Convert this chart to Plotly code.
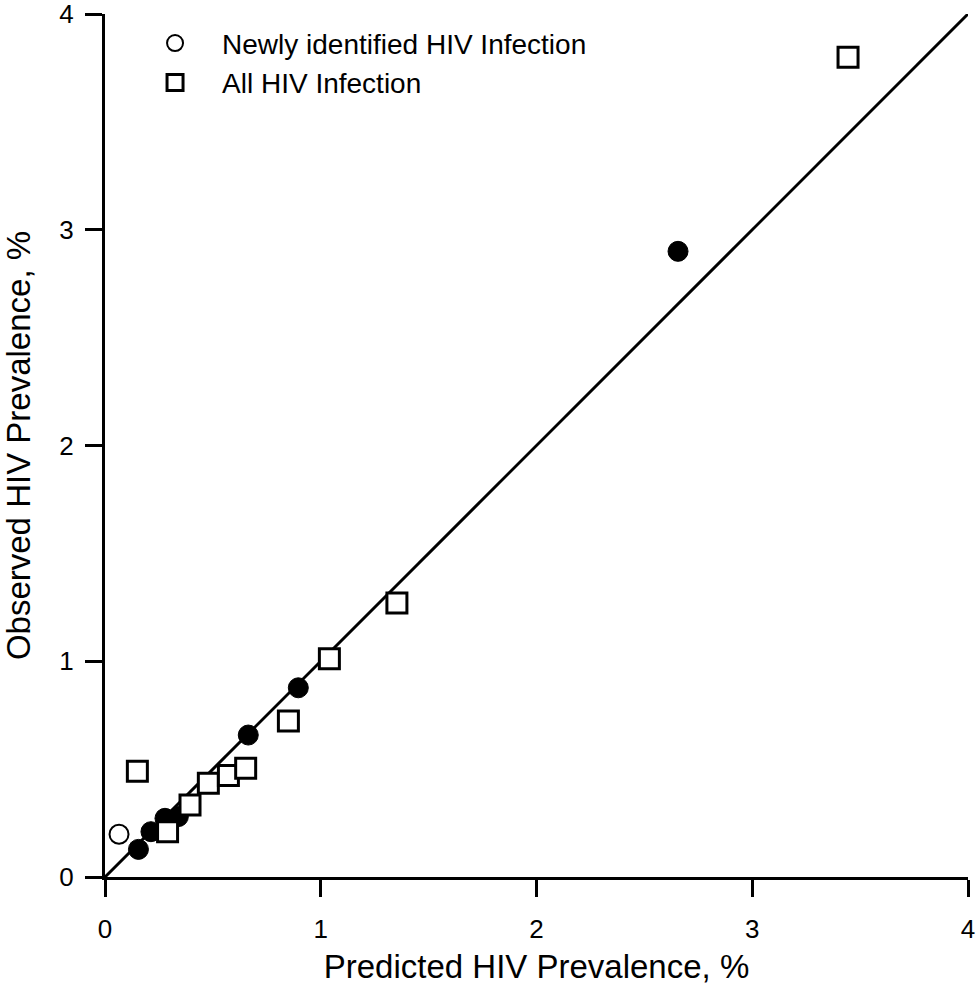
import plotly.graph_objects as go

# Newly identified HIV infection (open circle, legend)
new_x = [0.065]
new_y = [0.198]

# All HIV infection (open squares)
all_x = [0.15, 0.29, 0.394, 0.479, 0.572, 0.652, 0.85, 1.04, 1.353, 3.444]
all_y = [0.49, 0.21, 0.334, 0.434, 0.470, 0.504, 0.723, 1.012, 1.27, 3.80]

# Filled circles (no legend entry)
fill_x = [0.155, 0.213, 0.278, 0.34, 0.664, 0.896, 2.656]
fill_y = [0.128, 0.21, 0.272, 0.28, 0.658, 0.877, 2.90]

# Line of identity
line_x = [0, 4]
line_y = [0, 4]

FONT = "Arial, Liberation Sans, Helvetica, sans-serif"

fig = go.Figure()
fig.add_trace(go.Scatter(x=line_x, y=line_y, mode="lines",
                         line=dict(color="black", width=3),
                         showlegend=False, hoverinfo="skip"))
fig.add_trace(go.Scatter(x=fill_x, y=fill_y, mode="markers",
                         marker=dict(symbol="circle", size=20, color="black",
                                     line=dict(color="black", width=1)),
                         showlegend=False))
fig.add_trace(go.Scatter(x=new_x, y=new_y, mode="markers",
                         name="Newly identified HIV Infection",
                         marker=dict(symbol="circle", size=19, color="white",
                                     line=dict(color="black", width=2))))
fig.add_trace(go.Scatter(x=all_x, y=all_y, mode="markers",
                         name="All HIV Infection",
                         marker=dict(symbol="square", size=20, color="white",
                                     line=dict(color="black", width=3))))

axis_common = dict(range=[0, 4], tickvals=[0, 1, 2, 3, 4],
                   showline=True, linecolor="black", linewidth=3,
                   ticks="outside", ticklen=17, tickwidth=3, tickcolor="black",
                   showgrid=False, zeroline=False, automargin=False,
                   ticklabeloverflow="allow",
                   tickfont=dict(family=FONT, size=26, color="black"))

fig.update_layout(
    width=978, height=998,
    margin=dict(l=105, r=10, t=14, b=121),
    plot_bgcolor="white", paper_bgcolor="white",
    xaxis=dict(title=dict(text="Predicted HIV Prevalence, %",
                          font=dict(family=FONT, size=33, color="black"),
                          standoff=12),
               ticklabelstandoff=10,
               **axis_common),
    yaxis=dict(title=dict(text="Observed HIV Prevalence, %",
                          font=dict(family=FONT, size=33, color="black"),
                          standoff=21),
               ticklabelstandoff=6,
               **axis_common),
    legend=dict(x=0.0267, y=0.995, xanchor="left", yanchor="top",
                font=dict(family=FONT, size=28, color="black"),
                bgcolor="rgba(0,0,0,0)", itemwidth=84,
                tracegroupgap=0),
)

fig.write_html("out.html")
